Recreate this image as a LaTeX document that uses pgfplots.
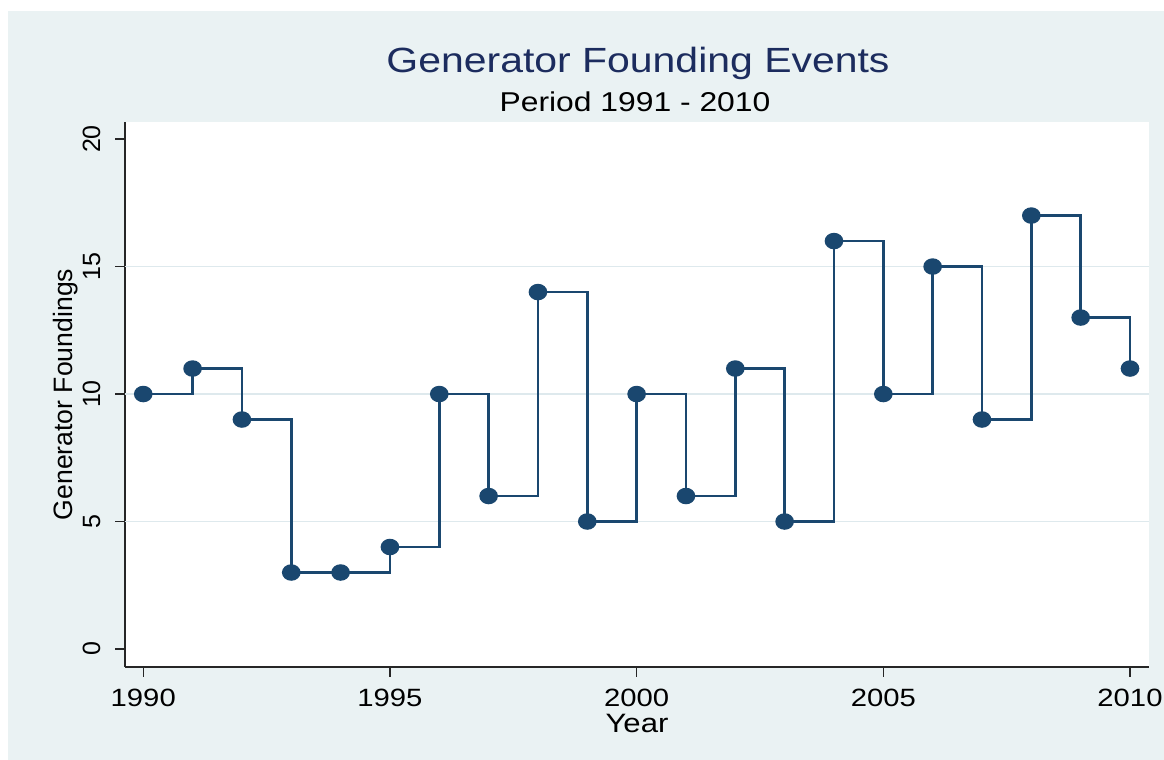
\documentclass[border=0pt]{standalone}
\usepackage{fontspec}
\setmainfont{Liberation Sans}
\newfontfamily\widefont{Liberation Sans}[FakeStretch=1.17]
\usepackage{pgfplots}
\pgfplotsset{compat=1.18}
\definecolor{bgc}{RGB}{234,242,243}
\definecolor{gridc}{RGB}{222,233,237}
\definecolor{linec}{RGB}{26,71,111}
\definecolor{titlec}{RGB}{28,44,94}
\begin{document}
\begin{tikzpicture}
\useasboundingbox (0,0) rectangle (582pt,380pt);
\fill[white] (0,0) rectangle (582pt,380pt);
\fill[bgc] (4pt,0) rectangle (582pt,374.5pt);
\begin{axis}[
  at={(62.5pt,46.5pt)}, anchor=south west,
  scale only axis, width=512pt, height=272.5pt,
  xmin=1989.63, xmax=2010.385, ymin=-0.706, ymax=20.67,
  axis x line*=bottom, axis y line*=left,
  axis line style={black!85, line width=0.7pt},
  axis background/.style={fill=white},
  xtick={1990,1995,2000,2005,2010},
  ytick={0,5,10,15,20},
  tick align=outside, major tick length=5pt,
  tick style={black!85, line width=0.6pt},
  minor tick num=0,
  /pgf/number format/assume math mode=true,
  /pgf/number format/1000 sep={},
  xticklabel style={font=\widefont\fontsize{12.5}{14}\selectfont, anchor=base, inner sep=0pt, yshift=-15pt},
  yticklabel style={font=\fontsize{12.5}{14}\selectfont, rotate=90, anchor=base, inner sep=0pt, yshift=7.5pt},
  extra y ticks={5,10,15},
  extra y tick labels={,,},
  extra y tick style={grid=major, major tick length=0pt, major grid style={gridc, line width=0.9pt}},
  xlabel={Year},
  xlabel style={font=\widefont\fontsize{13.3}{15}\selectfont, at={(axis description cs:0.5,0)}, anchor=base, inner sep=0pt, yshift=-33pt},
  ylabel={Generator Foundings},
  ylabel style={font=\fontsize{13.3}{15}\selectfont, at={(axis description cs:0,0.5)}, anchor=base, inner sep=0pt, yshift=26.5pt},
  clip=false,
]
\addplot[const plot mark left, color=linec, line width=1.25pt, mark=*, mark size=3.5pt, mark options={xscale=1.15, fill=linec, draw=linec}]
coordinates {
(1990,10) (1991,11) (1992,9) (1993,3) (1994,3) (1995,4) (1996,10) (1997,6)
(1998,14) (1999,5) (2000,10) (2001,6) (2002,11) (2003,5) (2004,16) (2005,10)
(2006,15) (2007,9) (2008,17) (2009,13) (2010,11)
};
\end{axis}
\node[font=\widefont\fontsize{17.5}{20}\selectfont, text=titlec, anchor=base, inner sep=0pt] at (319pt,343.5pt) {Generator Founding Events};
\node[font=\widefont\fontsize{13.6}{15}\selectfont, anchor=base, inner sep=0pt] at (317.5pt,324pt) {Period 1991 - 2010};
\end{tikzpicture}
\end{document}
